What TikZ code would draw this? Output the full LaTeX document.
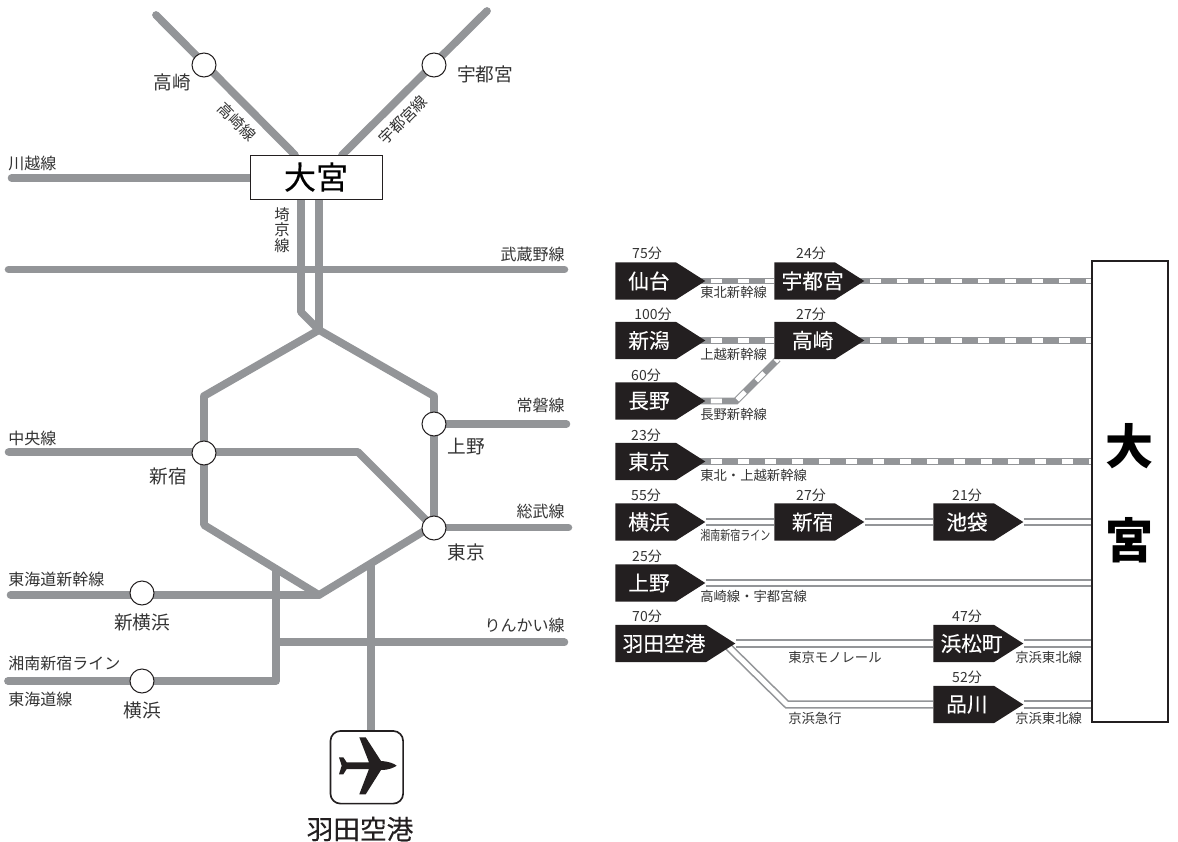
\documentclass[tikz,border=0pt]{standalone}
\usepackage{fontspec}
\setmainfont{Noto Sans CJK JP}
\newfontfamily\cjkmed[FakeBold=0.25]{Noto Sans CJK JP}
\usepackage{xcolor}
\usetikzlibrary{positioning,backgrounds,shapes.symbols}
\definecolor{linegray}{HTML}{939598}
\definecolor{markerblack}{HTML}{231F20}
\definecolor{labelgray}{HTML}{333333}
\tikzset{
  mapline/.style={linegray, line width=5.8pt, line cap=round, line join=round},
  station/.style={circle, draw=markerblack, fill=white, line width=0.75pt, minimum size=18pt, inner sep=0pt},
  stlabel/.style={inner sep=0pt, text=labelgray, font=\fontsize{14pt}{16pt}\selectfont},
  linelabel/.style={inner sep=0pt, text=labelgray, font=\fontsize{12pt}{14pt}\selectfont},
  marker/.style={signal, signal to=east, signal pointer angle=65, fill=markerblack, text=white,
    minimum width=67.5pt, minimum height=28pt, inner xsep=-12pt, inner ysep=0pt, anchor=west,
    font=\fontsize{15.5pt}{17pt}\cjkmed, execute at begin node=\hspace*{5pt}},
  markermid/.style={marker, execute at begin node=\hspace*{7pt}},
  minute/.style={inner sep=0pt, text=labelgray, font=\fontsize{10.5pt}{12pt}\selectfont},
  smalllabel/.style={inner sep=0pt, text=labelgray, font=\fontsize{10pt}{12pt}\selectfont},
  shinline/.style={linegray, line width=5.2pt, shorten <=-8pt,
    postaction={draw=white, line width=3.6pt, dash pattern=on 8.25pt off 12pt, dash phase=8.5pt}},
  railline/.style={draw=linegray, line width=1.2pt, double=white, double distance=3.7pt},
}
\begin{document}
\begin{tikzpicture}[x=0.75pt, y=-0.75pt]
\useasboundingbox (0,0) rectangle (1178,842);
% Map: stations
\node[draw=markerblack, fill=white, line width=0.75pt, minimum width=99pt, minimum height=33pt, inner sep=0pt,
  font=\fontsize{24pt}{26pt}\cjkmed] (oomiyaBox) at (316,177) {大宮};
\node[station] (stTakasaki) at (204,65) {};
\node[station] (stUtsunomiya) at (434,65) {};
\node[station] (stShinjuku) at (204,453) {};
\node[station] (stUeno) at (434,424) {};
\node[station] (stTokyo) at (434,528) {};
\node[station] (stShinyoko) at (142,593) {};
\node[station] (stYokohama) at (142,681) {};
\node[draw=markerblack, fill=white, line width=1.25pt, rounded corners=7.5pt, minimum size=54.5pt, inner sep=0pt] (airportBox) at (366.8,767.3) {};
% Map: line ends and corners
\foreach \n/\x/\y in {takasakiEnd/156/15, takasakiBox/295/155, utsuEnd/487/11, utsuBox/342/155,
    kawagoeEnd/11.6/178, kawagoeBox/250/178, saikyoTop/301/199, saikyoBend/301/312, hexTop/319/330,
    ueTop/319/199, hexNW/204/396, hexSW/204/525, hexBottom/319/595, hexSE/434/525, hexNE/434/396,
    musaWest/8.6/269.5, musaEast/564.4/269.5, jobanStart/434/424, jobanEnd/566.4/424, chuoEnd/8.6/452, chuoBend/358/452,
    tokyoCenter/434/528, sobuStart/434/527.5, sobuEnd/568.4/527.5, tokaidoEnd/10.6/595, shonanEnd/8/681, shonanBend/276/681,
    shonanTop/276/569, rinkaiWest/276/642.3, rinkaiEast/564.4/642.3, hanedaTop/371/564, hanedaBox/371/732} {
  \coordinate (\n) at (\x,\y);
}
% Map: gray lines
\begin{scope}[on background layer]
\draw[mapline] (takasakiEnd) -- (takasakiBox);
\draw[mapline] (utsuEnd) -- (utsuBox);
\draw[mapline] (kawagoeEnd) -- (kawagoeBox);
\draw[mapline] (musaWest) -- (musaEast);
\draw[mapline] (saikyoTop) -- (saikyoBend) -- (hexTop);
\draw[mapline] (ueTop) -- (hexTop);
\draw[mapline] (hexTop) -- (hexNW) -- (hexSW) -- (hexBottom) -- (hexSE) -- (hexNE) -- cycle;
\draw[mapline] (jobanStart) -- (jobanEnd);
\draw[mapline] (chuoEnd) -- (chuoBend) -- (tokyoCenter);
\draw[mapline] (sobuStart) -- (sobuEnd);
\draw[mapline] (tokaidoEnd) -- (hexBottom);
\draw[mapline] (shonanEnd) -- (shonanBend) -- (shonanTop);
\draw[mapline] (rinkaiWest) -- (rinkaiEast);
\draw[mapline] (hanedaTop) -- (hanedaBox);
\end{scope}
% Map: plane
\fill[markerblack] (339,757.3) -- (343.3,757.3) -- (346.7,762.3) -- (369,762.3) -- (359.3,737.3) -- (365.7,737.3) -- (381,761)
  .. controls (389,761.5) and (394,763.5) .. (396.7,765.7) .. controls (394,767.5) and (389,770) .. (381,770)
  -- (365.7,794.3) -- (359.3,794.3) -- (369,769) -- (346.7,769) -- (343.3,774.3) -- (339,774.3) -- (341.7,765.7) -- cycle;
% Map: labels
\foreach \n/\x/\y/\t in {lbTakasaki/172/82/高崎, lbUtsunomiya/485/74/宇都宮, lbShinjuku/168/476/新宿, lbUeno/466/447/上野,
    lbTokyo/466/552/東京, lbShinyoko/142/622/新横浜, lbYokohama/142/710/横浜} {
  \node[stlabel] (\n) at (\x,\y) {\t};
}
\node[stlabel, text=markerblack, font=\fontsize{20pt}{22pt}\cjkmed] (lbHaneda) at (360,829) {羽田空港};
\foreach \n/\x/\y/\t in {lbKawagoe/8/163/川越線, lbChuo/8/438/中央線, lbTokaidoS/8/579/東海道新幹線, lbShonan/8/663/湘南新宿ライン, lbTokaido/8/699/東海道線} {
  \node[linelabel, anchor=west] (\n) at (\x,\y) {\t};
}
\foreach \n/\x/\y/\t in {lbMusashino/565/254/武蔵野線, lbJoban/565/405/常磐線, lbSobu/565/511/総武線, lbRinkai/565/625/りんかい線} {
  \node[linelabel, anchor=east] (\n) at (\x,\y) {\t};
}
\node[linelabel, rotate=-45, font=\fontsize{11.5pt}{14pt}\selectfont] (lbTakasakiLine) at (237,122) {高崎線};
\node[linelabel, rotate=45, font=\fontsize{11.5pt}{14pt}\selectfont] (lbUtsuLine) at (403,120) {宇都宮線};
\node[linelabel, align=center, font=\fontsize{11.5pt}{11.6pt}\selectfont] (lbSaikyo) at (282,230) {埼\\京\\線};
% Table: big box
\node[draw=markerblack, fill=white, line width=1.6pt, minimum width=57pt, minimum height=345.5pt, inner sep=0pt] (bigBox) at (1130,491.5) {};
\node[inner sep=0pt, font=\fontsize{36pt}{40pt}\selectfont\bfseries] (bigO) at (1129,446) {大};
\node[inner sep=0pt, font=\fontsize{36pt}{40pt}\selectfont\bfseries] (bigM) at (1129,540) {宮};
% Table: markers
\node[marker] (sendai) at (615,281) {仙台};
\node[markermid] (utsunomiya) at (774,281) {宇都宮};
\node[marker] (niigata) at (615,340.5) {新潟};
\node[markermid] (takasaki) at (774,340.5) {高崎};
\node[marker] (nagano) at (615,401) {長野};
\node[marker] (tokyo) at (615,461.5) {東京};
\node[marker] (yokohama) at (615,522) {横浜};
\node[markermid] (shinjuku) at (774,522) {新宿};
\node[marker] (ikebukuro) at (933,522) {池袋};
\node[marker] (ueno) at (615,583) {上野};
\node[marker, minimum width=90pt] (haneda) at (615,643.5) {羽田空港};
\node[markermid] (hamamatsucho) at (933,643.5) {浜松町};
\node[marker] (shinagawa) at (933,704.5) {品川};
\coordinate (naganoBend) at (736,401);
\coordinate (naganoEnd) at (778,359);
\coordinate (hanedaStart) at (725,643.5);
\coordinate (hanedaBend) at (787,704.5);
% Table: connectors
\begin{scope}[on background layer]
\draw[shinline] (sendai.east) -- (utsunomiya.west);
\draw[shinline] (utsunomiya.east) -- (bigBox.west |- utsunomiya.east);
\draw[shinline] (niigata.east) -- (takasaki.west);
\draw[shinline] (takasaki.east) -- (bigBox.west |- takasaki.east);
\draw[shinline] (nagano.east) -- (naganoBend) -- (naganoEnd);
\draw[shinline] (tokyo.east) -- (bigBox.west |- tokyo.east);
\draw[railline] (yokohama.east) -- (shinjuku.west);
\draw[railline] (shinjuku.east) -- (ikebukuro.west);
\draw[railline] (ikebukuro.east) -- (bigBox.west |- ikebukuro.east);
\draw[railline] (ueno.east) -- (bigBox.west |- ueno.east);
\draw[railline] (haneda.east) -- (hamamatsucho.west);
\draw[railline] (hamamatsucho.east) -- (bigBox.west |- hamamatsucho.east);
\draw[railline] (hanedaStart) -- (hanedaBend) -- (shinagawa.west);
\draw[railline] (shinagawa.east) -- (bigBox.west |- shinagawa.east);
\end{scope}
% Table: minutes
\foreach \n/\x/\y/\t in {minA/647/253/75分, minB/811/253/24分, minC/653/314/100分, minD/811/314/27分, minE/646/375/60分,
    minF/646/435/23分, minG/646/495/55分, minH/811/495/27分, minI/967/495/21分, minJ/647/556/25分,
    minK/647/616/70分, minL/967/616/47分, minM/967/677/52分} {
  \node[minute] (\n) at (\x,\y) {\t};
}
% Table: line names
\foreach \n/\x/\y/\t in {nmA/700/292/東北新幹線, nmB/700/354/上越新幹線, nmC/700/414/長野新幹線, nmD/700/475.5/東北・上越新幹線,
    nmF/700/596/高崎線・宇都宮線, nmG/788/657/東京モノレール, nmH/788/718/京浜急行, nmI/1015/657/京浜東北線, nmJ/1015/718/京浜東北線} {
  \node[smalllabel, anchor=west] (\n) at (\x,\y) {\t};
}
\node[smalllabel, anchor=west] (nmE) at (700,535) {\scalebox{.75}[1]{湘南新宿ライン}};
\end{tikzpicture}
\end{document}
